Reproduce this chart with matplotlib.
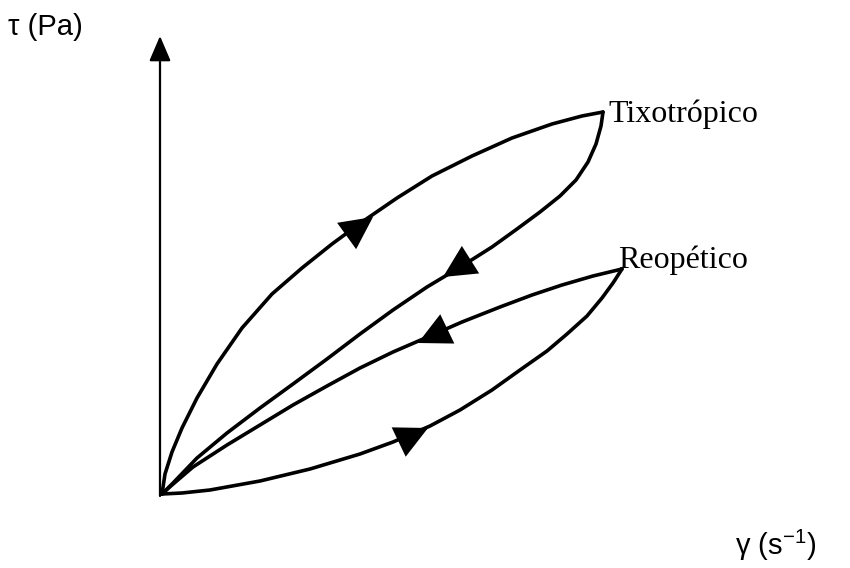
import matplotlib.pyplot as plt

plt.rcParams['mathtext.fontset'] = 'custom'
plt.rcParams['mathtext.rm'] = 'Liberation Sans'

# hysteresis loops (schematic), origin of shear rate / stress at (0, 0)
tixo_up_x = [0, 3, 10, 20, 35, 55, 80, 110, 140, 170, 200, 235, 270, 310, 350, 390, 420, 441]
tixo_up_y = [0, 20, 42, 66, 96, 130, 166, 200, 226, 250, 272, 296, 318, 338, 356, 370, 378, 382]

tixo_down_x = [441, 439, 434, 426, 414, 398, 378, 355, 330, 300, 265, 231, 198, 165, 131, 98, 65, 35, 12, 0]
tixo_down_y = [382, 368, 350, 332, 314, 298, 282, 265, 247, 228, 207, 184, 160, 135, 110, 86, 61, 36, 12, 0]

reo_top_x = [0, 10, 31, 65, 98, 131, 165, 198, 231, 268, 300, 338, 370, 400, 431, 460]
reo_top_y = [0, 9, 27, 49, 69, 89, 108, 126, 142, 158, 172, 187, 199, 209, 218, 225]

reo_bottom_x = [0, 20, 48, 98, 148, 198, 231, 268, 298, 330, 358, 385, 405, 425, 440, 451, 460]
reo_bottom_y = [0, 1, 4, 13, 25, 40, 52, 68, 84, 104, 124, 143, 160, 178, 196, 211, 225]

# direction arrows: (tail, tip)
arrows = [
    ((186, 259), (211, 277)),
    ((308, 234), (281, 217)),
    ((283, 164), (256, 151)),
    ((243, 55), (266, 66)),
]

fig = plt.figure(figsize=(8.5, 5.68), dpi=100)
ax = fig.add_axes([0, 0, 1, 1])
ax.set_xlim(-162, 688)
ax.set_ylim(-74, 494)
ax.axis('off')

lw = 2.6
for xs, ys in [(tixo_up_x, tixo_up_y), (tixo_down_x, tixo_down_y),
               (reo_top_x, reo_top_y), (reo_bottom_x, reo_bottom_y)]:
    ax.plot(xs, ys, color='black', lw=lw, solid_joinstyle='round',
            solid_capstyle='round')

for tail, tip in arrows:
    ax.annotate('', xy=tip, xytext=tail,
                arrowprops=dict(arrowstyle='-|>,head_length=0.9,head_width=0.45',
                                mutation_scale=26, color='black', lw=0,
                                shrinkA=0, shrinkB=0))

# axes with arrow heads
ax.annotate('', xy=(-2, 458), xytext=(-2, -2),
            arrowprops=dict(arrowstyle='-|>,head_length=0.7,head_width=0.3',
                            mutation_scale=22, color='black', lw=1.6,
                            shrinkA=0, shrinkB=0))
ax.annotate('', xy=(690, -2), xytext=(-2, -2),
            arrowprops=dict(arrowstyle='-|>,head_length=0.7,head_width=0.3',
                            mutation_scale=22, color='black', lw=1.6,
                            shrinkA=0, shrinkB=0))

ax.text(-154, 459, 'τ (Pa)', fontsize=21, family='Liberation Sans', va='baseline')
ax.text(573, -61, r'γ (s$^{-1}$)', fontsize=21, family='Liberation Sans', va='baseline')

ax.text(446, 372, 'Tixotrópico', fontsize=23, family='Liberation Serif', va='baseline')
ax.text(456, 226, 'Reopético', fontsize=23, family='Liberation Serif', va='baseline')

fig.savefig('out.png', dpi=100)
